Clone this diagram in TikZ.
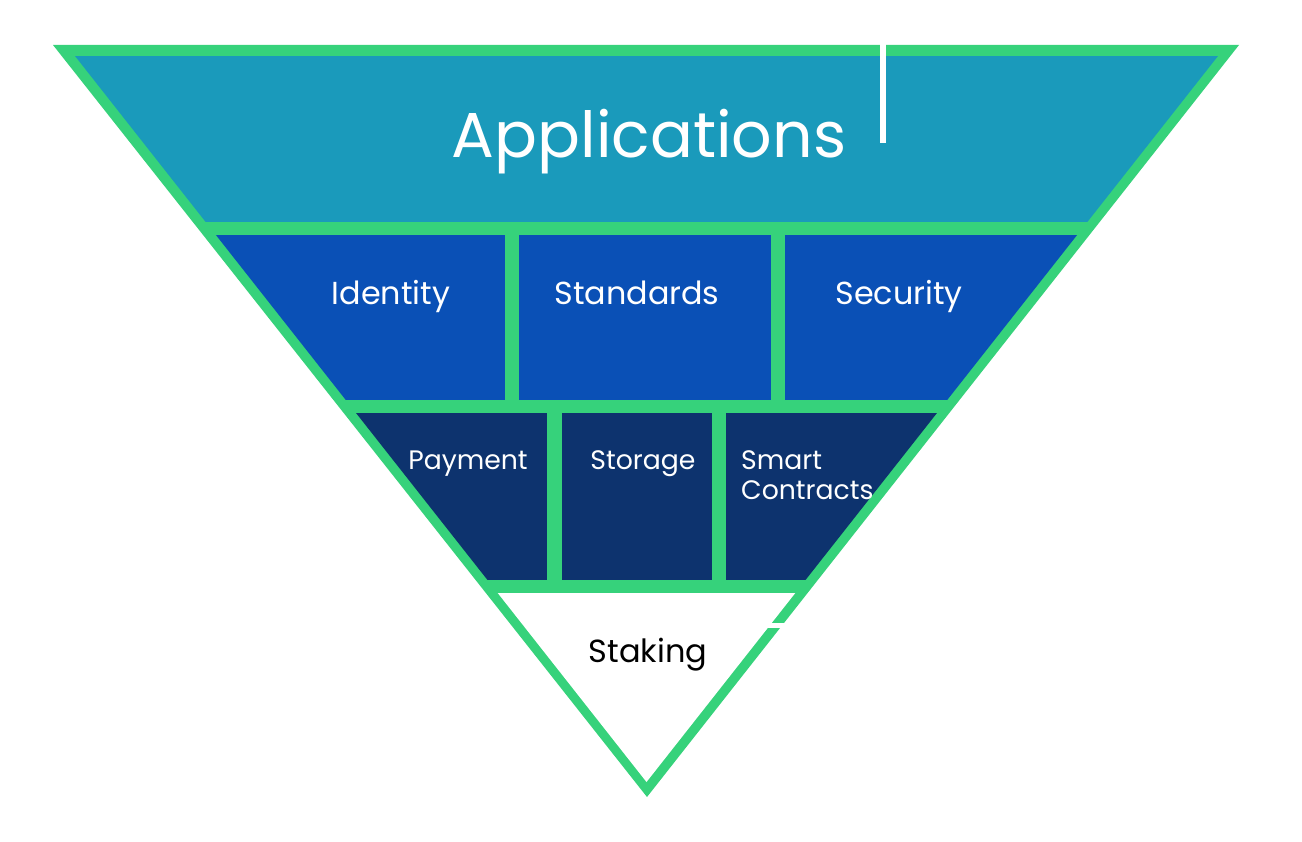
\documentclass[tikz,border=0pt]{standalone}
\usepackage{fontspec}
\setmainfont{Poppins}
\definecolor{frame}{HTML}{36D27B}
\definecolor{appc}{HTML}{1A9ABB}
\definecolor{midc}{HTML}{0A50B6}
\definecolor{lowc}{HTML}{0D336E}
\tikzset{
  lbl/.style={anchor=base, text=white, inner sep=0pt},
  biglbl/.style={lbl, font=\fontsize{63.5}{68}\selectfont},
  midlbl/.style={lbl, font=\fontsize{31.8}{34}\selectfont},
  lowlbl/.style={lbl, font=\fontsize{26.7}{30}\selectfont},
}
\begin{document}
\begin{tikzpicture}[x=1pt,y=-1pt]
\useasboundingbox (0,0) rectangle (1302,842);
% outer green triangle
\fill[frame] (53,45) -- (1239,45) -- (647,797) -- cycle;
% inner regions
\begin{scope}
  \clip (75,56) -- (1218,56) -- (646.5,782) -- cycle;
  \fill[appc] (0,56) rectangle (1302,222);
  \fill[midc] (0,235) rectangle (505,400);
  \fill[midc] (519,235) rectangle (771,400);
  \fill[midc] (785,235) rectangle (1302,400);
  \fill[lowc] (0,413) rectangle (547,580);
  \fill[lowc] (562,413) rectangle (712,580);
  \fill[lowc] (726,413) rectangle (1302,580);
  \fill[white] (0,593) rectangle (1302,842);
\end{scope}
% white marks
\fill[white] (880,44) rectangle (886,143);
\fill[white] (762,623) rectangle (790,628);
% labels
\node[biglbl] (apps) at (649,158) {Applications};
\node[midlbl] (ident) at (391,305) {Identity};
\node[midlbl] (stand) at (637,305) {Standards};
\node[midlbl] (secur) at (899,305) {Security};
\node[lowlbl] (pay) at (468,469) {Payment};
\node[lowlbl] (stor) at (643,469) {Storage};
\node[lowlbl, anchor=base west] (smart) at (741,469) {Smart};
\node[lowlbl, anchor=base west] (contr) at (741,499) {Contracts};
\node[lbl, text=black, font=\fontsize{32}{34}\selectfont] (stak) at (648,662) {Staking};
\end{tikzpicture}
\end{document}
